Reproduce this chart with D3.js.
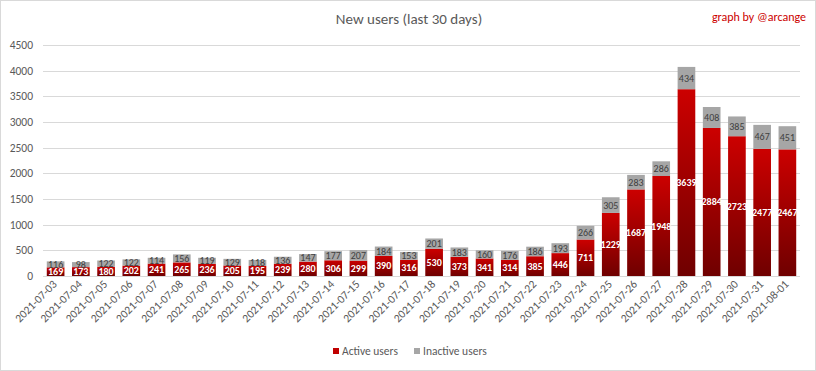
<!DOCTYPE html>
<html>
<head>
<meta charset="utf-8">
<script src="https://cdn.jsdelivr.net/npm/d3@7"></script>
<style>
  body { margin: 0; background: #fff; }
  text { font-family: Carlito, Calibri, "Liberation Sans Narrow", "Liberation Sans", sans-serif; }
</style>
</head>
<body>
<div id="chart"></div>
<script>
var dates = ["2021-07-03","2021-07-04","2021-07-05","2021-07-06","2021-07-07","2021-07-08","2021-07-09","2021-07-10",
  "2021-07-11","2021-07-12","2021-07-13","2021-07-14","2021-07-15","2021-07-16","2021-07-17","2021-07-18",
  "2021-07-19","2021-07-20","2021-07-21","2021-07-22","2021-07-23","2021-07-24","2021-07-25","2021-07-26",
  "2021-07-27","2021-07-28","2021-07-29","2021-07-30","2021-07-31","2021-08-01"];
var active = [169,173,180,202,241,265,236,205,195,239,280,306,299,390,316,530,373,341,314,385,446,711,1229,1687,1948,3639,2884,2723,2477,2467];
var inactive = [116,98,122,122,114,156,119,129,118,136,147,177,207,184,153,201,183,160,176,186,193,266,305,283,286,434,408,385,467,451];
var yTicks = [0,500,1000,1500,2000,2500,3000,3500,4000,4500];

var width = 816, height = 371;
var plotLeft = 43, plotRight = 800, plotTop = 45, plotBottom = 276;

var svg = d3.select('#chart').append('svg')
  .attr('width', width)
  .attr('height', height);

svg.append('rect')
  .attr('x', 0.5).attr('y', 0.5)
  .attr('width', width - 1).attr('height', height - 1)
  .style('fill', 'white').style('stroke', '#d9d9d9');

var grad = svg.append('defs').append('linearGradient')
  .attr('id', 'redgrad')
  .attr('x1', 0).attr('y1', 0).attr('x2', 0).attr('y2', 1);
grad.append('stop').attr('offset', '0%').attr('stop-color', '#cc0000');
grad.append('stop').attr('offset', '100%').attr('stop-color', '#6f0000');

var x = d3.scaleBand().domain(dates).range([plotLeft, plotRight]).paddingInner(0.3).paddingOuter(0.15);
var y = d3.scaleLinear().domain([0, 4500]).range([plotBottom, plotTop]);

// gridlines
svg.append('g').selectAll('line').data(yTicks).join('line')
  .attr('x1', plotLeft).attr('x2', plotRight)
  .attr('y1', d => Math.round(y(d)) + 0.5).attr('y2', d => Math.round(y(d)) + 0.5)
  .style('stroke', '#d9d9d9').style('stroke-width', 1);

// y labels
svg.append('g').selectAll('text').data(yTicks).join('text')
  .attr('x', 33).attr('y', d => y(d) + 4)
  .attr('text-anchor', 'end')
  .style('font-size', '11.5px').style('fill', '#595959')
  .text(d => d);

var rows = dates.map((d, i) => ({ date: d, a: active[i], b: inactive[i] }));

var bars = svg.append('g');
bars.selectAll('rect.act').data(rows).join('rect')
  .attr('class', 'act')
  .attr('x', d => x(d.date)).attr('width', x.bandwidth())
  .attr('y', d => y(d.a)).attr('height', d => y(0) - y(d.a))
  .style('fill', 'url(#redgrad)');

bars.selectAll('rect.ina').data(rows).join('rect')
  .attr('class', 'ina')
  .attr('x', d => x(d.date)).attr('width', x.bandwidth())
  .attr('y', d => y(d.a + d.b)).attr('height', d => y(d.a) - y(d.a + d.b))
  .style('fill', '#a6a6a6');

bars.selectAll('text.al').data(rows).join('text')
  .attr('class', 'al')
  .attr('x', d => x(d.date) + x.bandwidth() / 2)
  .attr('y', d => y(d.a / 2) + 3.5)
  .attr('text-anchor', 'middle')
  .style('font-size', '10px').style('font-weight', 'bold').style('fill', 'white')
  .text(d => d.a);

bars.selectAll('text.il').data(rows).join('text')
  .attr('class', 'il')
  .attr('x', d => x(d.date) + x.bandwidth() / 2)
  .attr('y', d => y(d.a + d.b / 2) + 3.5)
  .attr('text-anchor', 'middle')
  .style('font-size', '10px').style('fill', '#404040')
  .text(d => d.b);

// x labels
svg.append('g').selectAll('text').data(dates).join('text')
  .attr('transform', d => 'translate(' + (x(d) + x.bandwidth() / 2 + 2) + ',285) rotate(-45)')
  .attr('text-anchor', 'end')
  .style('font-size', '11.5px').style('fill', '#595959')
  .text(d => d);

svg.append('text')
  .attr('x', 409).attr('y', 24)
  .attr('text-anchor', 'middle')
  .style('font-size', '15px').style('fill', '#595959')
  .text('New users (last 30 days)');

svg.append('text')
  .attr('x', 806).attr('y', 21)
  .attr('text-anchor', 'end')
  .style('font-size', '12px').style('fill', '#cc0000')
  .text('graph by @arcange');

var legend = svg.append('g');
legend.append('rect').attr('x', 333).attr('y', 348).attr('width', 6).attr('height', 6).style('fill', '#c00000');
legend.append('text').attr('x', 342).attr('y', 355).style('font-size', '11.5px').style('fill', '#595959').text('Active users');
legend.append('rect').attr('x', 414).attr('y', 348).attr('width', 6).attr('height', 6).style('fill', '#a6a6a6');
legend.append('text').attr('x', 423).attr('y', 355).style('font-size', '11.5px').style('fill', '#595959').text('Inactive users');
</script>
</body>
</html>
